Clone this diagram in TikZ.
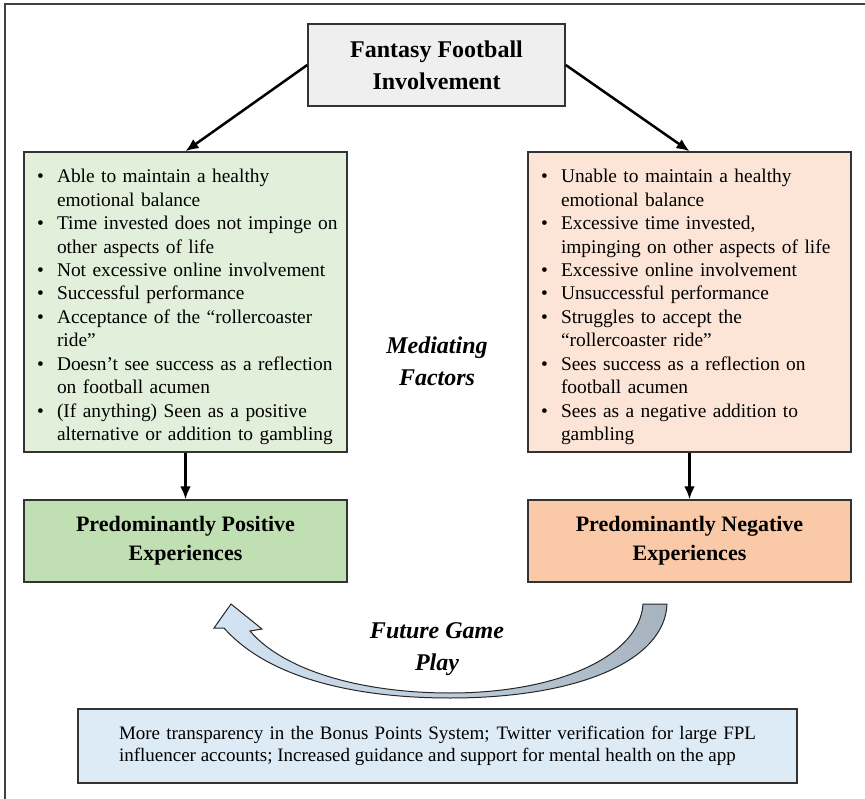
\documentclass[tikz,border=0pt]{standalone}
\usepackage{fontspec}
\setmainfont{Liberation Serif}
\usetikzlibrary{positioning,arrows.meta}

\definecolor{ffigray}{HTML}{EFEFEF}
\definecolor{goodlight}{HTML}{E2EFDA}
\definecolor{gooddark}{HTML}{C0DFB2}
\definecolor{badlight}{HTML}{FCE4D6}
\definecolor{baddark}{HTML}{FAC9A8}
\definecolor{planblue}{HTML}{DDEBF7}
\definecolor{arrowblue}{HTML}{D3E4F4}
\definecolor{arrowgray}{HTML}{A7B4C0}

\newenvironment{factlist}{\begin{list}{\textbullet}{\setlength{\leftmargin}{33pt}\setlength{\labelwidth}{12pt}\setlength{\labelsep}{13pt}\setlength{\itemsep}{0pt}\setlength{\parsep}{0pt}\setlength{\topsep}{0pt}\setlength{\partopsep}{0pt}\setlength{\rightmargin}{0pt}}\raggedright}{\end{list}}

\begin{document}
\begin{tikzpicture}[x=1pt,y=-1pt,>={Latex[length=13pt,width=11pt]},
  box/.style={draw=black!80, line width=1.5pt, inner sep=0pt},
  factbox/.style={box, text width=323pt, minimum height=300pt, font=\fontsize{19.4}{23.45}\selectfont},
  expbox/.style={box, minimum width=323pt, minimum height=82pt, align=center, font=\bfseries\fontsize{22}{29}\selectfont},
  midtext/.style={align=center, font=\bfseries\itshape\fontsize{24}{32}\selectfont},
  link/.style={->, line width=2.5pt}]

  \useasboundingbox (0,0) rectangle (865,799);
  \draw[line width=1.5pt, black!75] (5,799) -- (5,4) -- (865,4);

  \node [box, fill=ffigray, minimum width=257pt, minimum height=82pt, align=center,
         font=\bfseries\fontsize{24}{32}\selectfont] (ffi) at (436.5,65) {Fantasy Football\\Involvement};

  \node [factbox, fill=goodlight] (goodfac) at (185.5,302) {%
    \begin{factlist}
      \item Able to maintain a healthy\newline emotional balance
      \item Time invested does not impinge on\newline other aspects of life
      \item Not excessive online involvement
      \item Successful performance
      \item Acceptance of the “rollercoaster\newline ride”
      \item Doesn’t see success as a reflection\newline on football acumen
      \item (If anything) Seen as a positive\newline alternative or addition to gambling
    \end{factlist}};

  \node [factbox, fill=badlight] (badfac) at (689.5,302) {%
    \begin{factlist}
      \item Unable to maintain a healthy\newline emotional balance
      \item Excessive time invested,\newline impinging on other aspects of life
      \item Excessive online involvement
      \item Unsuccessful performance
      \item Struggles to accept the\newline “rollercoaster ride”
      \item Sees success as a reflection on\newline football acumen
      \item Sees as a negative addition to\newline gambling
    \end{factlist}};

  \node [midtext] (med) at (437,361) {Mediating\\Factors};

  \node [expbox, fill=gooddark] (goodexp) at (185.5,541) {Predominantly Positive\\Experiences};
  \node [expbox, fill=baddark] (badexp) at (689.5,541) {Predominantly Negative\\Experiences};

  \draw[link] (ffi.west) -- (goodfac.north);
  \draw[link] (ffi.east) -- (badfac.north);
  \draw[link] (goodfac) -- (goodexp);
  \draw[link] (badfac) -- (badexp);

  \shadedraw[left color=arrowblue, right color=arrowgray, draw=black!85, line width=1pt]
    (667,604) .. controls (665,660) and (580,698) .. (450,698)
    .. controls (360,698) and (270,680) .. (224,628)
    -- (214,628) -- (231,604) -- (262,629) -- (250,631)
    .. controls (285,672) and (365,693) .. (450,693)
    .. controls (560,693) and (640,655) .. (643,604) -- cycle;

  \node [midtext] (fgp) at (437,649) {Future Game\\Play};

  \node [box, fill=planblue, text width=637pt, minimum width=719pt, minimum height=74pt,
         align=justify, font=\fontsize{19}{22}\selectfont] (plan) at (437.5,746)
    {\parfillskip=0pt\relax More transparency in the Bonus Points System; Twitter verification for large FPL\linebreak
     influencer accounts; Increased guidance and support for mental health on the app};
\end{tikzpicture}
\end{document}
